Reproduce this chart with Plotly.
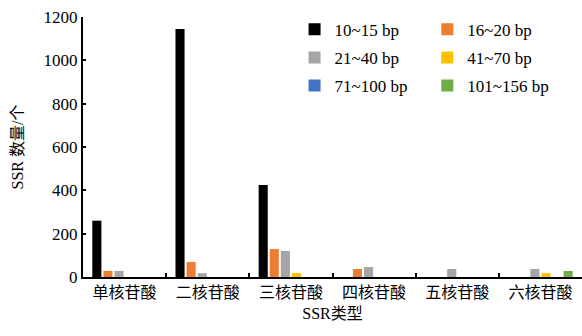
import plotly.graph_objects as go

categories = ["单核苷酸", "二核苷酸", "三核苷酸", "四核苷酸", "五核苷酸", "六核苷酸"]
series_names = ["10~15 bp", "16~20 bp", "21~40 bp", "41~70 bp", "71~100 bp", "101~156 bp"]
s_10_15 = [260, 1145, 425, 0, 0, 0]
s_16_20 = [28, 69, 129, 37, 0, 0]
s_21_40 = [28, 18, 120, 46, 37, 37]
s_41_70 = [0, 0, 18, 0, 0, 18]
s_71_100 = [0, 0, 0, 0, 0, 0]
s_101_156 = [0, 0, 0, 0, 0, 28]
series_values = [s_10_15, s_16_20, s_21_40, s_41_70, s_71_100, s_101_156]
colors = ["#000000", "#ED7D31", "#A5A5A5", "#FFC000", "#4472C4", "#70AD47"]
y_ticks = [0, 200, 400, 600, 800, 1000, 1200]

FONT = "Liberation Serif, Times New Roman, Noto Sans CJK SC, serif"

fig = go.Figure()
for i, (name, vals, col) in enumerate(zip(series_names, series_values, colors)):
    fig.add_trace(go.Bar(
        x=categories, y=vals, name=name, marker_color=col,
        marker_line_width=0,
        legend="legend" if i % 2 == 0 else "legend2",
        legendgroup=name,
    ))

legend_common = dict(
    font=dict(family=FONT, size=17, color="#000"),
    bgcolor="rgba(0,0,0,0)", tracegroupgap=3,
    yanchor="top", y=1.02, xanchor="left",
    itemwidth=30,
)

fig.update_layout(
    width=582, height=336,
    margin=dict(l=83, r=0, t=17, b=59),
    paper_bgcolor="white", plot_bgcolor="white",
    barmode="group", bargap=0.2, bargroupgap=0.18,
    font=dict(family=FONT, size=16, color="#000"),
    legend=dict(x=0.424, **legend_common),
    legend2=dict(x=0.69, **legend_common),
    xaxis=dict(
        automargin=False,
        showline=True, linecolor="#000", linewidth=2,
        ticks="inside", tickson="boundaries", ticklen=4, tickwidth=2, tickcolor="#000",
        tickfont=dict(family=FONT, size=16, color="#000"),
        title=dict(text="SSR类型", font=dict(family=FONT, size=16), standoff=8),
        showgrid=False,
    ),
    yaxis=dict(
        automargin=False,
        range=[0, 1200], tickvals=y_ticks,
        showline=True, linecolor="#000", linewidth=2,
        ticks="inside", ticklen=3, tickwidth=1.5, tickcolor="#000",
        tickfont=dict(family=FONT, size=17, color="#000"),
        title=dict(text="SSR 数量/个", font=dict(family=FONT, size=16), standoff=16),
        showgrid=False, zeroline=False,
    ),
)

fig.write_html("out.html", config={"displayModeBar": False},
               post_script="document.body.style.margin='0';")
